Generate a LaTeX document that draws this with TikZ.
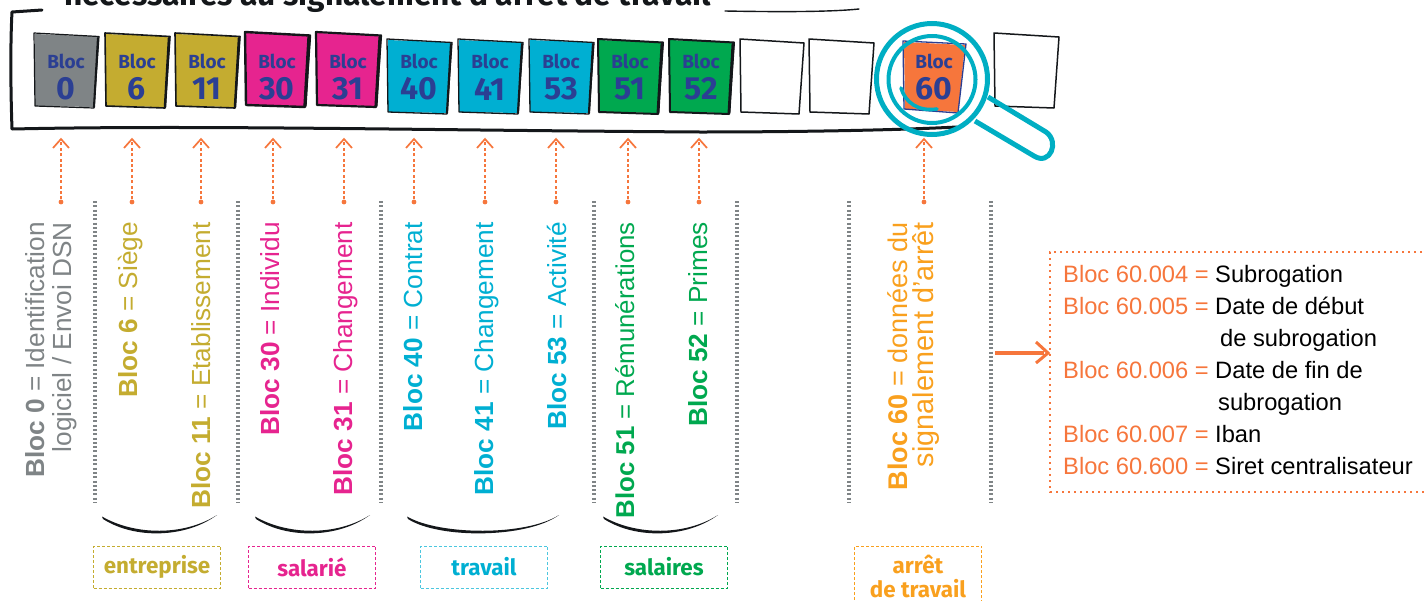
\documentclass[tikz,border=0pt]{standalone}
\usepackage{fontspec}
\setmainfont{Liberation Sans}
\newfontfamily\blocfont{Fira Sans}
\usetikzlibrary{arrows.meta}
\definecolor{cgrey}{HTML}{7F8486}
\definecolor{cgold}{HTML}{C4AC30}
\definecolor{cpink}{HTML}{E6248F}
\definecolor{ccyan}{HTML}{00AFD2}
\definecolor{cgreen}{HTML}{00A84F}
\definecolor{corange}{HTML}{F6763C}
\definecolor{camber}{HTML}{F9A01E}
\definecolor{cnavy}{HTML}{2B3F93}
\definecolor{cink}{HTML}{14171A}
\definecolor{cteal}{HTML}{00AEC3}
\tikzset{
  x=1pt,y=-1pt,
  bloctext/.style={font=\blocfont\fontsize{19}{20}\selectfont\bfseries,text=cnavy,align=center,inner sep=0pt},
  blocnum/.style={font=\blocfont\fontsize{32}{33}\selectfont\bfseries,text=cnavy,inner sep=0pt},
  vertlabel/.style={font=\fontsize{26.2}{27}\selectfont,rotate=90,anchor=base east,inner sep=0pt},
  sep/.style={draw=cgrey,line width=3.6pt,dash pattern=on 2pt off 2.3pt},
  pointer/.style={draw=corange,line width=1.4pt,dash pattern=on 3pt off 2.4pt},
  tip/.style={draw=corange,line width=1.7pt},
  dotend/.style={circle,fill=corange,minimum size=4.8pt,inner sep=0pt},
  catbox/.style={draw,line width=1pt,dash pattern=on 3pt off 2pt,minimum width=127pt,minimum height=42pt,inner sep=0pt,align=center,font=\blocfont\fontsize{22.4}{24}\selectfont\bfseries},
  inkline/.style={draw=cink,line cap=round,line join=round},
  detail/.style={font=\fontsize{23.7}{24}\selectfont,anchor=base west,inner sep=0pt},
}
\newcommand{\blocsq}[6]{% name, x, ytop, fill, lw, number
  \path[fill=#4] (#2+1,#3+1) -- (#2+64,#3+3.5) -- (#2+60,#3+74) -- (#2+1,#3+73) -- cycle;
  \draw[inkline,line width=#5] (#2,#3) -- (#2+65,#3+3.5) -- (#2+60,#3+75) -- (#2+1,#3+73) -- cycle;
  \draw[inkline,line width=#5+0.9pt] (#2+64,#3+5) -- (#2+60,#3+74);
  \node[bloctext] (#1a) at (#2+32,61) {Bloc};
  \node[blocnum] (#1b) at (#2+32,89) {#6};
}
\newcommand{\pointerline}[2]{% name, x
  \node[dotend] (#1d) at (#2,202) {};
  \coordinate (#1t) at (#2,139);
  \draw[pointer] (#1d) -- (#1t);
  \draw[tip] (#2-8,148) -- (#1t) -- (#2+8,148);
}
\newcommand{\swooshshape}[2]{% x left, x right
  \fill[cink] (#1,516.5) .. controls (#1+33,535.5) and (#2-33,536) .. (#2,515)
    .. controls (#2-32,538.5) and (#1+32,539) .. (#1+1,519) -- cycle;
}
\begin{document}
\begin{tikzpicture}
\useasboundingbox (0,0) rectangle (1424,600);
\clip (0,0) rectangle (1424,600);
% title
\node[font=\blocfont\fontsize{31.7}{32}\selectfont\bfseries,text=cink,inner sep=0pt,anchor=base west] (title) at (64,5) {nécessaires au signalement d'arrêt de travail};
% outer bracket
\draw[inkline,line width=1.4pt] (725,11) .. controls (780,12) and (830,12) .. (859,9);
\draw[inkline,line width=3pt] (42,10) -- (12,12) .. controls (10,50) and (11,100) .. (12,129)
  .. controls (200,125) and (400,130) .. (700,132) .. controls (800,132) and (900,130) .. (957,127);
% bloc squares
\blocsq{b0}{34}{33}{cgrey}{1.2pt}{0}
\blocsq{b6}{105}{33}{cgold}{1.6pt}{6}
\blocsq{b11}{175}{33}{cgold}{1.6pt}{11}
\blocsq{b30}{245}{32}{cpink}{2.4pt}{30}
\blocsq{b31}{316}{32}{cpink}{2.2pt}{31}
\blocsq{b40}{387}{39}{ccyan}{1.3pt}{40}
\blocsq{b41}{458}{39}{ccyan}{1.3pt}{41}
\blocsq{b53}{529}{39}{ccyan}{1.3pt}{53}
\blocsq{b51}{598}{39}{cgreen}{2pt}{51}
\blocsq{b52}{669}{39}{cgreen}{2pt}{52}
% empty squares
\draw[inkline,line width=1.5pt] (740,39) -- (804,43) -- (799,114) -- (741,112) -- cycle;
\draw[inkline,line width=1.5pt] (809,39) -- (874,43) -- (869,114) -- (810,112) -- cycle;
\draw[inkline,line width=1.5pt] (994,33) -- (1059,37) -- (1054,108) -- (995,106) -- cycle;
% bloc 60
\path[fill=corange] (904,42) -- (965,45) -- (958,112) -- (905,109) -- cycle;
\draw[cnavy,line width=1.3pt,line join=round] (903,41) -- (966,44) -- (958,113) -- (904,109) -- cycle;
\node[bloctext] (b60a) at (934,61) {Bloc};
\node[blocnum] (b60b) at (934,89) {60};
% magnifier
\draw[cteal,line width=5pt] (932,79) circle[radius=55.5];
\draw[cteal,line width=4pt] (932,79.5) circle[radius=43.5];
\draw[cteal,line width=3.6pt,line cap=round] (901,88) .. controls (905,102) and (918,112) .. (937,109);
\draw[cteal,line width=5pt,line join=round] (988,97) -- (1046,132) .. controls (1060,142) and (1050,166) .. (1034,156) -- (975,121);
% pointers
\pointerline{p0}{61}
\pointerline{p6}{132}
\pointerline{p11}{201}
\pointerline{p30}{273}
\pointerline{p31}{344}
\pointerline{p40}{414}
\pointerline{p41}{485}
\pointerline{p53}{556}
\pointerline{p51}{628}
\pointerline{p52}{699}
\pointerline{p60}{924}
% separators
\foreach \i/\x in {a/95,b/238,c/381,d/594,e/737,f/849,g/991}{
  \draw[sep] (\x,201) -- (\x,503);
}
% rotated labels
\node[vertlabel,text=cgrey] (l0) at (44,222) {\textbf{Bloc 0} = Identification};
\node[vertlabel,text=cgrey] (l0b) at (71,222) {logiciel / Envoi DSN};
\node[vertlabel,text=cgold] (l6) at (137,222) {\textbf{Bloc 6} = Siège};
\node[vertlabel,text=cgold] (l11) at (210,222) {\textbf{Bloc 11} = Etablissement};
\node[vertlabel,text=cpink] (l30) at (279,222) {\textbf{Bloc 30} = Individu};
\node[vertlabel,text=cpink] (l31) at (352,222) {\textbf{Bloc 31} = Changement};
\node[vertlabel,text=ccyan] (l40) at (422,222) {\textbf{Bloc 40} = Contrat};
\node[vertlabel,text=ccyan] (l41) at (493,222) {\textbf{Bloc 41} = Changement};
\node[vertlabel,text=ccyan] (l53) at (566,222) {\textbf{Bloc 53} = Activité};
\node[vertlabel,text=cgreen,font=\fontsize{25.8}{27}\selectfont] (l51) at (634,222) {\textbf{Bloc 51} = Rémunérations};
\node[vertlabel,text=cgreen] (l52) at (707,222) {\textbf{Bloc 52} = Primes};
\node[vertlabel,text=camber,font=\fontsize{27}{27}\selectfont] (l60) at (907,222) {\textbf{Bloc 60} = données du};
\node[vertlabel,text=camber,font=\fontsize{28.8}{29}\selectfont] (l60b) at (933,222) {signalement d'arrêt};
% swooshes
\swooshshape{102}{217}
\swooshshape{255}{370}
\swooshshape{407}{559}
\swooshshape{603}{718}
% category boxes
\node[catbox,draw=cgold,text=cgold] (c1) at (157,567) {entreprise};
\node[catbox,draw=cpink,text=cpink] (c2) at (312,567) {salarié};
\node[catbox,draw=ccyan!70,text=ccyan] (c3) at (484,567) {travail};
\node[catbox,draw=cgreen,text=cgreen] (c4) at (664,567) {salaires};
\node[catbox,draw=camber,text=camber,minimum height=60pt] (c5) at (918,576) {arrêt\\de travail};
% detail box
\draw[corange,line width=1.6pt,dash pattern=on 1.6pt off 4.4pt] (1440,252) -- (1050,252) -- (1050,492) -- (1440,492);
\coordinate (boxin) at (1048,353);
\coordinate (arrowstart) at (995,353);
\draw[corange,line width=4pt] (arrowstart) -- (1044,353);
\draw[tip,line width=3pt] (1036,342) -- (boxin) -- (1036,363);
\node[detail,text=corange] (d1) at (1063,282) {Bloc 60.004 =};
\node[detail] (d1b) at (1215,282) {Subrogation};
\node[detail,text=corange] (d2) at (1063,314) {Bloc 60.005 =};
\node[detail] (d2b) at (1215,314) {Date de début};
\node[detail] (d2c) at (1220,346) {de subrogation};
\node[detail,text=corange] (d3) at (1063,378) {Bloc 60.006 =};
\node[detail] (d3b) at (1215,378) {Date de fin de};
\node[detail] (d3c) at (1218,410) {subrogation};
\node[detail,text=corange] (d4) at (1063,442) {Bloc 60.007 =};
\node[detail] (d4b) at (1215,442) {Iban};
\node[detail,text=corange] (d5) at (1063,474) {Bloc 60.600 =};
\node[detail] (d5b) at (1215,474) {Siret centralisateur};
\end{tikzpicture}
\end{document}
